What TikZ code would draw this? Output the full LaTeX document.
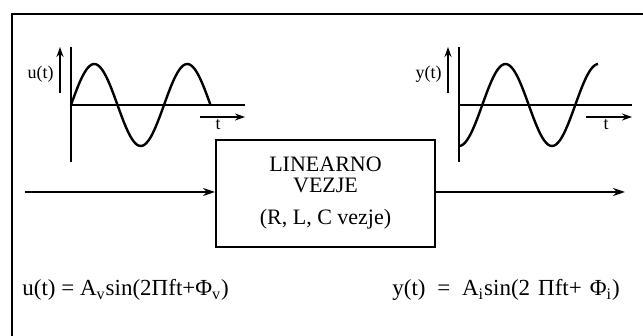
\documentclass[tikz,border=0pt]{standalone}
\usepackage{fontspec}
\setmainfont{Liberation Serif}
\usetikzlibrary{arrows.meta,positioning}
\definecolor{ink}{RGB}{0,0,0}
\tikzset{
  okvir/.style={draw=ink, line width=1.4pt},
  os/.style={draw=ink, line width=0.75pt},
  val/.style={draw=ink, line width=1.2pt},
  blok/.style={draw=ink, line width=1pt, align=center, minimum width=109.5pt, minimum height=53.5pt, inner sep=0pt, font=\fontsize{11}{10.5}\selectfont},
  tok/.style={-{Stealth[length=6pt,width=4pt]}, draw=ink, line width=0.8pt},
  smjer/.style={-{Stealth[length=5pt,width=3.5pt]}, draw=ink, line width=0.7pt},
  oznaka/.style={font=\fontsize{9}{10}\selectfont, inner sep=1pt},
  formula/.style={font=\fontsize{11.5}{12}\selectfont, anchor=west, inner sep=0pt}
}
\begin{document}
\begin{tikzpicture}[x=0.5pt, y=-0.5pt]
\useasboundingbox (0,0) rectangle (643,336);
\draw[okvir] (12,336) -- (12,14) -- (643,14);

% ulazni signal
\draw[os] (71,47) -- (71,162);
\draw[os] (71,105) -- (245,105);
\draw[val] plot[domain=71:210.5, samples=90, smooth] (\x, {105-41*sin(3.871*(\x-71))});
\coordinate (ua) at (60,93);
\coordinate (ub) at (60,47);
\draw[smjer] (ua) -- (ub);
\node[oznaka, anchor=south east, yshift=4pt, xshift=-2pt] (u) at (ua) {u(t)};
\coordinate (ta) at (200,117);
\coordinate (tb) at (245,117);
\draw[smjer] (ta) -- (tb);
\node[oznaka, anchor=north] (t1) at (218,117) {t};

% izlazni signal
\draw[os] (459,47) -- (459,162);
\draw[os] (459,105) -- (632,105);
\draw[val] plot[domain=459:598, samples=90, smooth] (\x, {105+41*cos(3.871*(\x-459))});
\coordinate (ya) at (448,93);
\coordinate (yb) at (448,47);
\draw[smjer] (ya) -- (yb);
\node[oznaka, anchor=south east, yshift=4pt, xshift=-2pt] (y) at (ya) {y(t)};
\coordinate (sa) at (586,117);
\coordinate (sb) at (632,117);
\draw[smjer] (sa) -- (sb);
\node[oznaka, anchor=north] (t2) at (606,117) {t};

% blok
\node[blok] (sklop) at (325.5,193.5) {LINEARNO\\VEZJE\\[5.5pt](R, L, C vezje)};
\coordinate (ulaz) at (25,192);
\coordinate (izlaz) at (625,192);
\draw[tok] (ulaz) -- (sklop.west |- ulaz);
\draw[tok] (sklop.east |- izlaz) -- (izlaz);

\node[formula] (fu) at (22,290) {u(t) = A\textsubscript{v}sin(2Πft+Φ\textsubscript{v})};
\node[formula] (fy) at (392,290) {y(t)\hspace{3pt} =\hspace{3pt} A\textsubscript{i}sin(2\hspace{4pt}Πft+\hspace{4pt}Φ\textsubscript{i})};
\end{tikzpicture}
\end{document}
